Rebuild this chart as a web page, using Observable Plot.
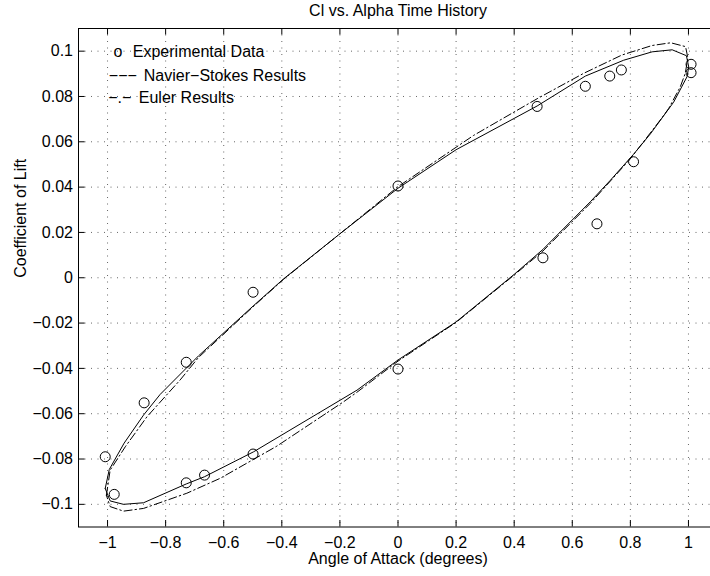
<!DOCTYPE html>
<html><head><meta charset="utf-8">
<script src="https://cdn.jsdelivr.net/npm/d3@7"></script>
<script src="https://cdn.jsdelivr.net/npm/@observablehq/plot@0.6"></script>
<style>html,body{margin:0;padding:0;background:#fff;overflow:hidden;width:710px;height:576px}
#chart svg{max-width:none !important;display:block}</style>
</head><body><div id="chart"></div>
<script>
// ---- data ----
const titleText = "Cl vs. Alpha Time History";
const xLabelText = "Angle of Attack (degrees)";
const yLabelText = "Coefficient of Lift";

const xTicks = [-1, -0.8, -0.6, -0.4, -0.2, 0, 0.2, 0.4, 0.6, 0.8, 1];
const xTickLabels = ["\u22121", "\u22120.8", "\u22120.6", "\u22120.4", "\u22120.2", "0", "0.2", "0.4", "0.6", "0.8", "1"];
const yTicks = [-0.1, -0.08, -0.06, -0.04, -0.02, 0, 0.02, 0.04, 0.06, 0.08, 0.1];
const yTickLabels = ["\u22120.1", "\u22120.08", "\u22120.06", "\u22120.04", "\u22120.02", "0", "0.02", "0.04", "0.06", "0.08", "0.1"];

const legendSymbols = ["o", "\u2212\u2212\u2212", "\u2212.\u2212"];
const legendLabels = ["Experimental Data", "Navier\u2212Stokes Results", "Euler Results"];

// Experimental data (circles)
const expAlpha = [1.009, 1.009, 0.479, 0.645, 0.729, 0.769, 0.0, 0.685, 0.499, 0.0, 0.811, -0.499, -0.729, -0.874, -1.008, -0.977, -0.729, -0.666, -0.499];
const expCl    = [0.0942, 0.0905, 0.0756, 0.0845, 0.0890, 0.0917, 0.0405, 0.0238, 0.0088, -0.0403, 0.0512, -0.0064, -0.0373, -0.0552, -0.0790, -0.0956, -0.0905, -0.0871, -0.0778];

// Navier-Stokes results (solid loop)
const nsAlpha = [-1.008, -0.994, -0.943, -0.876, -0.819, -0.687, -0.499, -0.394, -0.199, 0.0, 0.2, 0.479, 0.645, 0.777, 0.875, 0.944, 0.993, 1.001, 0.995, 0.949, 0.869, 0.811, 0.731, 0.662, 0.499, 0.4, 0.2, 0.0, -0.141, -0.497, -0.666, -0.729, -0.876, -0.945, -0.991, -1.008];
const nsCl    = [-0.093, -0.0846, -0.073, -0.0606, -0.0515, -0.0345, -0.0125, -0.0005, 0.0195, 0.0395, 0.0565, 0.0758, 0.089, 0.096, 0.0997, 0.1006, 0.098, 0.093, 0.0887, 0.0775, 0.0635, 0.0545, 0.043, 0.0335, 0.0125, 0.0015, -0.0195, -0.0363, -0.0496, -0.0768, -0.0878, -0.091, -0.0993, -0.1, -0.0985, -0.093];

// Euler results (dash-dot loop)
const eulerAlpha = [-1.004, -0.991, -0.939, -0.864, -0.75, -0.687, -0.499, -0.394, -0.199, 0.0, 0.26, 0.479, 0.639, 0.771, 0.875, 0.939, 0.99, 0.998, 0.989, 0.972, 0.932, 0.903, 0.80, 0.662, 0.499, 0.4, 0.2, 0.0, -0.141, -0.187, -0.417, -0.612, -0.727, -0.876, -0.945, -0.991, -1.004];
const eulerCl    = [-0.096, -0.0849, -0.0746, -0.0613, -0.0451, -0.0352, -0.0128, -0.0007, 0.0195, 0.0402, 0.0628, 0.079, 0.0902, 0.0983, 0.1025, 0.1037, 0.102, 0.097, 0.0902, 0.0843, 0.0747, 0.0696, 0.0525, 0.0328, 0.0118, 0.0012, -0.0197, -0.0368, -0.0505, -0.0547, -0.0743, -0.0885, -0.0951, -0.1018, -0.103, -0.101, -0.096];

// ---- layout ----
const W = 718, H = 576, mL = 78, mR = 1, mT = 28, mB = 49.5;
const xDom = [-1.1, 1.1], yDom = [-0.11, 0.11];
const tickPx = 6.5;
const tx = tickPx * (xDom[1] - xDom[0]) / (W - mL - mR);
const ty = tickPx * (yDom[1] - yDom[0]) / (H - mT - mB);

const exp = expAlpha.map((a, i) => ({a, cl: expCl[i]}));
const ns = nsAlpha.map((a, i) => ({a, cl: nsCl[i]}));
const eu = eulerAlpha.map((a, i) => ({a, cl: eulerCl[i]}));

const fontFamily = "'Liberation Sans', Arial, Helvetica, sans-serif";
const grid = {stroke: "#000", strokeOpacity: 0.6, strokeWidth: 1, strokeDasharray: "1,5.5"};

const legendMarks = [];
const legendRows = [
  {symDx: 35, txtDx: 54.3, dy: 23.6},
  {symDx: 30.3, txtDx: 65.3, dy: 46.9},
  {symDx: 29.7, txtDx: 60.3, dy: 69.6}
];
legendRows.forEach((r, i) => {
  legendMarks.push(Plot.text([legendSymbols[i]], {text: d => d, frameAnchor: "top-left", dx: r.symDx, dy: r.dy, textAnchor: "start", lineAnchor: "middle", fill: "#000"}));
  legendMarks.push(Plot.text([legendLabels[i]], {text: d => d, frameAnchor: "top-left", dx: r.txtDx, dy: r.dy, textAnchor: "start", lineAnchor: "middle", fill: "#000"}));
});

const chart = Plot.plot({
  width: W, height: H,
  marginLeft: mL, marginRight: mR, marginTop: mT, marginBottom: mB,
  x: {domain: xDom, label: null},
  y: {domain: yDom, label: null},
  style: {fontFamily, fontSize: "16px", background: "#fff", color: "#000", maxWidth: "none"},
  marks: [
    Plot.ruleX(xTicks, {x: d => d, ...grid}),
    Plot.ruleY(yTicks, {y: d => d, ...grid}),
    Plot.ruleX(xTicks, {x: d => d, y1: yDom[0], y2: yDom[0] + ty, stroke: "#000"}),
    Plot.ruleX(xTicks, {x: d => d, y1: yDom[1], y2: yDom[1] - ty, stroke: "#000"}),
    Plot.ruleY(yTicks, {y: d => d, x1: xDom[0], x2: xDom[0] + tx, stroke: "#000"}),
    Plot.axisX({ticks: xTicks, tickFormat: d => xTickLabels[xTicks.indexOf(d)], tickSize: 0, tickPadding: 10, label: null, fontSize: 16}),
    Plot.axisY({ticks: yTicks, tickFormat: d => yTickLabels[yTicks.indexOf(d)], tickSize: 0, tickPadding: 5.5, label: null, fontSize: 16}),
    Plot.line(eu, {x: "a", y: "cl", stroke: "#000", strokeWidth: 1, strokeDasharray: "8,3,1.5,3"}),
    Plot.line(ns, {x: "a", y: "cl", stroke: "#000", strokeWidth: 1}),
    Plot.dot(exp, {x: "a", y: "cl", r: 5, stroke: "#000", fill: "none", strokeWidth: 1}),
    ...legendMarks,
    Plot.text([titleText], {text: d => d, frameAnchor: "top", dy: -18.1, lineAnchor: "middle", fill: "#000"}),
    Plot.text([xLabelText], {text: d => d, frameAnchor: "bottom", dy: 32, lineAnchor: "middle", fill: "#000"}),
    Plot.text([yLabelText], {text: d => d, frameAnchor: "left", dx: -58.1, rotate: -90, lineAnchor: "middle", fill: "#000"}),
    Plot.frame({stroke: "#000", strokeWidth: 1})
  ]
});
document.getElementById("chart").append(chart);
</script></body></html>
